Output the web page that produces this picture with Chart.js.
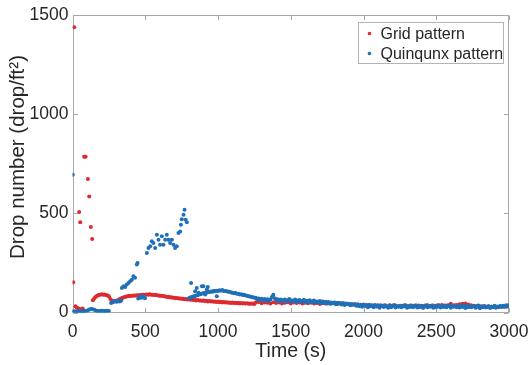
<!DOCTYPE html>
<html>
<head>
<meta charset="utf-8">
<script src="https://cdn.jsdelivr.net/npm/chart.js@4.4.1/dist/chart.umd.min.js"></script>
<style>
  html, body { margin: 0; padding: 0; background: #ffffff; }
  #wrap { width: 530px; height: 365px; }
</style>
</head>
<body>
<div id="wrap"><canvas id="c" width="530" height="365"></canvas></div>
<script>
// ---------- DATA ----------
const seriesNames = ["Grid pattern", "Quinqunx pattern"];
const xAxisTitle = "Time (s)";
const yAxisTitle = "Drop number (drop/ft²)";
const xTickValues = [0, 500, 1000, 1500, 2000, 2500, 3000];
const yTickValues = [0, 500, 1000, 1500];

// Grid pattern (red): early scattered points
const gridEarlyTimes  = [5, 12, 20, 28, 35, 42, 46, 53, 62, 70, 80, 90, 106, 115, 126, 135];
const gridEarlyValues = [152, 1438, 32, 25, 22, 20, 507, 455, 18, 20, 785, 785, 673, 585, 431, 371];
// Grid pattern: band sampled every 10 s from 140 s
const gridBandStart = 140, gridBandStep = 10;
const gridBandValues = [
  62, 72, 79, 85, 88, 90, 92, 90, 91, 88,
  86, 82, 68, 60, 57, 55, 58, 62, 66, 69,
  73, 76, 78, 81, 82, 84, 83, 85, 86, 85,
  87, 86, 88, 87, 89, 90, 89, 91, 90, 92,
  89, 90, 88, 89, 87, 86, 85, 84, 83, 82,
  81, 78, 79, 76, 77, 74, 75, 72, 73, 70,
  71, 69, 69, 67, 68, 65, 67, 64, 65, 63,
  64, 61, 63, 60, 61, 59, 60, 58, 59, 56,
  58, 55, 57, 54, 56, 53, 55, 52, 54, 51,
  53, 50, 52, 49, 51, 48, 50, 48, 49, 47,
  49, 46, 48, 46, 47, 45, 47, 44, 46, 44,
  45, 43
];
// Grid pattern: late band sampled every 20 s from 1260 s
const gridLateStart = 1260, gridLateStep = 20;
const gridLateValues = [
  50, 53, 47, 51, 49, 46, 52, 48, 50, 45,
  49, 52, 46, 50, 48, 51, 45, 49, 47, 50,
  46, 48, 43, 47, 45, 49, 46, 48, 43, 46,
  47, 44, 42, 39, 41, 37, 39, 36, 38, 35,
  37, 34, 36, 33, 35, 32, 36, 34, 35, 32,
  34, 36, 32, 35, 34, 31, 35, 33, 34, 36,
  33, 35, 34, 36, 38, 35, 37, 44, 36, 38,
  41, 44, 46, 40, 36, 34, 33, 31, 32, 30,
  31, 29, 30, 28, 31, 30, 29, 31
];

// Quinqunx pattern (blue): first point
const quinStartTimes  = [2];
const quinStartValues = [695];
// low band 0-250 s every 10 s
const quinLowStart = 0, quinLowStep = 10;
const quinLowValues = [5, 6, 4, 5, 7, 6, 5, 6, 7, 8, 9, 12, 16, 18, 17, 14, 10, 8, 7, 8, 9, 8, 7, 8, 9, 8];
// 265-335 s every 10 s
const quinMidStart = 265, quinMidStep = 10;
const quinMidValues = [48, 52, 55, 57, 54, 58, 56, 60];
// rising / high scattered points
const quinRiseTimes  = [339, 350, 362, 373, 385, 396, 408, 419, 430, 442, 447,
                        452, 460, 468, 475, 483, 490, 498,
                        511, 522, 534, 545, 556, 568, 580, 591, 602, 614, 625, 637, 648,
                        660, 671, 683, 694, 705, 717, 728, 740, 745, 751, 763, 770, 778, 786];
const quinRiseValues = [124, 132, 128, 141, 149, 158, 165, 183, 175, 242, 250,
                        70, 78, 74, 82, 76, 80, 72,
                        300, 325, 334, 359, 350, 325, 392, 367, 342, 384, 342, 367, 392,
                        367, 350, 367, 342, 325, 334, 401, 409, 443, 470, 493, 518, 468, 455];
// scattered points 800-1000 s
const quinScatterTimes  = [815, 843, 854, 866, 889, 900, 912, 923, 930, 969, 992];
const quinScatterValues = [149, 107, 124, 99, 132, 132, 91, 116, 129, 107, 82];
// band 800-1250 s every 10 s
const quinBandStart = 800, quinBandStep = 10;
const quinBandValues = [
  72, 76, 78, 81, 83, 86, 87, 91, 92, 96,
  97, 99, 100, 103, 103, 106, 105, 108, 107, 110,
  109, 112, 110, 113, 109, 108, 107, 104, 105, 101,
  100, 97, 98, 94, 95, 91, 92, 88, 89, 86,
  84, 82, 81, 78, 77, 74
];
// band 1260-3000 s every 10 s
const quinLateStart = 1260, quinLateStep = 10;
const quinLateValues = [
  74, 66, 71, 63, 69, 60, 68, 62, 67, 58,
  66, 78, 90, 72, 61, 67, 58, 65, 57, 63,
  66, 55, 62, 68, 54, 61, 57, 65, 52, 60,
  63, 53, 58, 64, 51, 59, 55, 62, 50, 57,
  60, 49, 56, 52, 58, 47, 55, 50, 54, 45,
  53, 44, 50, 47, 51, 42, 49, 45, 48, 40,
  47, 38, 45, 41, 44, 36, 43, 39, 42, 34,
  42, 31, 38, 29, 40, 33, 36, 27, 39, 32,
  35, 26, 38, 30, 34, 24, 37, 31, 28, 36,
  30, 24, 35, 27, 33, 38, 25, 32, 29, 34,
  26, 33, 30, 37, 24, 31, 28, 35, 27, 32,
  36, 25, 31, 28, 34, 23, 30, 37, 26, 31,
  29, 35, 24, 32, 27, 36, 30, 25, 33, 28,
  34, 26, 31, 37, 24, 32, 29, 35, 27, 30,
  25, 33, 28, 36, 23, 31, 27, 34, 26, 30,
  32, 24, 29, 35, 22, 30, 27, 33, 25, 28,
  31, 23, 29, 26, 34, 24, 30, 27, 33, 28,
  34, 29, 37, 31, 38
];

// ---------- BUILD POINTS ----------
function pairs(times, values) { return values.map((v, i) => ({ x: times[i], y: v })); }
function sampled(start, step, values) { return values.map((v, i) => ({ x: start + i * step, y: v })); }

const gridPoints = [].concat(
  pairs(gridEarlyTimes, gridEarlyValues),
  sampled(gridBandStart, gridBandStep, gridBandValues),
  sampled(gridLateStart, gridLateStep, gridLateValues)
);
const quinPoints = [].concat(
  pairs(quinStartTimes, quinStartValues),
  sampled(quinLowStart, quinLowStep, quinLowValues),
  sampled(quinMidStart, quinMidStep, quinMidValues),
  pairs(quinRiseTimes, quinRiseValues),
  pairs(quinScatterTimes, quinScatterValues),
  sampled(quinBandStart, quinBandStep, quinBandValues),
  sampled(quinLateStart, quinLateStep, quinLateValues)
);

const RED = '#de2a2f';
const BLUE = '#1f70b8';
const AXIS = '#a8a8a8';
const TEXT = '#262626';
const FONT = "'Liberation Sans', Arial, sans-serif";

// ---------- PLUGINS ----------
const framePlugin = {
  id: 'frame',
  beforeDatasetsDraw(chart) {
    const { ctx, chartArea: a, scales: { x, y } } = chart;
    ctx.save();
    ctx.strokeStyle = AXIS;
    ctx.lineWidth = 1;
    const L = Math.round(a.left) + 0.5, R = Math.round(a.right) - 0.5;
    const T = Math.round(a.top) + 0.5, B = Math.round(a.bottom) - 0.5;
    ctx.strokeRect(L, T, R - L, B - T);
    ctx.beginPath();
    const tl = 4.5;
    xTickValues.forEach(v => {
      const px = Math.round(x.getPixelForValue(v)) + 0.5;
      ctx.moveTo(px, B); ctx.lineTo(px, B - tl);
      ctx.moveTo(px, T); ctx.lineTo(px, T + tl);
    });
    yTickValues.forEach(v => {
      const py = Math.round(y.getPixelForValue(v)) + 0.5;
      ctx.moveTo(L, py); ctx.lineTo(L + tl, py);
      ctx.moveTo(R, py); ctx.lineTo(R - tl, py);
    });
    ctx.stroke();
    // y axis title
    ctx.fillStyle = TEXT;
    ctx.font = "20.5px " + FONT;
    ctx.textAlign = 'center';
    ctx.textBaseline = 'middle';
    ctx.translate(18, 157);
    ctx.rotate(-Math.PI / 2);
    ctx.fillText(yAxisTitle, 0, 0);
    ctx.restore();
  }
};

const legendPlugin = {
  id: 'boxLegend',
  afterDraw(chart) {
    const { ctx, chartArea: a } = chart;
    const w = 145, h = 41;
    const bx = Math.round(a.right - 6 - w) + 0.5, by = Math.round(a.top + 7) + 0.5;
    ctx.save();
    ctx.fillStyle = '#ffffff';
    ctx.fillRect(bx, by, w, h);
    ctx.strokeStyle = '#b4b4b4';
    ctx.lineWidth = 1;
    ctx.strokeRect(bx, by, w, h);
    const colors = [RED, BLUE];
    ctx.font = "16px " + FONT;
    ctx.textBaseline = 'middle';
    ctx.textAlign = 'left';
    seriesNames.forEach((name, i) => {
      const cy = by + 11 + i * 20;
      ctx.fillStyle = colors[i];
      ctx.beginPath();
      ctx.arc(bx + 11, cy, 1.8, 0, Math.PI * 2);
      ctx.fill();
      ctx.fillStyle = TEXT;
      ctx.fillText(name, bx + 22, cy + 1);
    });
    ctx.restore();
  }
};

const plainTick = (v) => String(v);

// ---------- CHART ----------
new Chart(document.getElementById('c'), {
  type: 'scatter',
  data: {
    datasets: [
      { label: seriesNames[0], data: gridPoints, backgroundColor: RED, borderColor: RED,
        pointRadius: 2, pointBorderWidth: 0, borderWidth: 0, order: 1 },
      { label: seriesNames[1], data: quinPoints, backgroundColor: BLUE, borderColor: BLUE,
        pointRadius: 2, pointBorderWidth: 0, borderWidth: 0, order: 0 }
    ]
  },
  options: {
    responsive: false,
    animation: false,
    devicePixelRatio: 1,
    layout: { padding: { top: 15, right: 21, left: 0, bottom: 0 } },
    plugins: { legend: { display: false }, tooltip: { enabled: false } },
    scales: {
      x: {
        type: 'linear', min: 0, max: 3000,
        grid: { display: false, drawTicks: false },
        border: { display: false },
        ticks: { stepSize: 500, padding: 9, color: TEXT, font: { family: FONT, size: 17.5 }, maxRotation: 0, callback: plainTick },
        title: { display: true, text: xAxisTitle, color: TEXT, font: { family: FONT, size: 19.5 }, padding: { bottom: 2 } },
        afterFit(s) { s.height = 52.5; s.paddingRight = 0; s.paddingLeft = 0; }
      },
      y: {
        type: 'linear', min: 0, max: 1500,
        grid: { display: false, drawTicks: false },
        border: { display: false },
        ticks: { stepSize: 500, padding: 4, color: TEXT, font: { family: FONT, size: 17.5 }, callback: plainTick },
        title: { display: false },
        afterFit(s) { s.width = 72.5; s.paddingTop = 0; s.paddingBottom = 0; }
      }
    }
  },
  plugins: [framePlugin, legendPlugin]
});
</script>
</body>
</html>
